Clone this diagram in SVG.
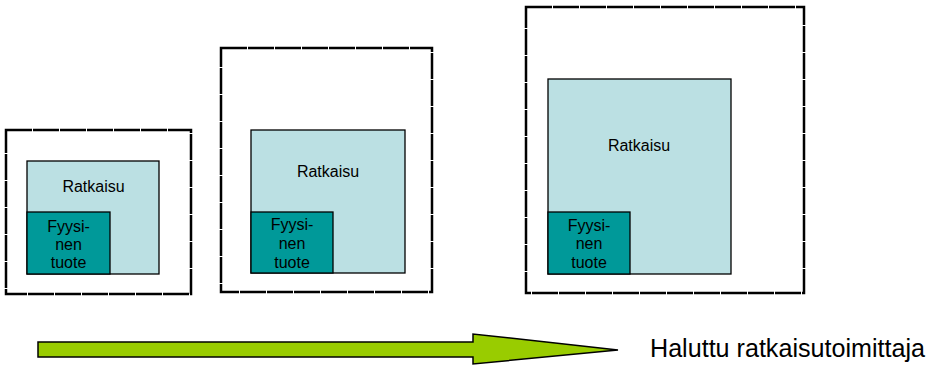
<svg xmlns="http://www.w3.org/2000/svg" width="931" height="365" viewBox="0 0 931 365">
  <style>
    .frame { fill: none; stroke: #000; stroke-width: 2.5; stroke-dasharray: 26 1; }
    .sol { fill: #BBE0E3; stroke: #000; stroke-width: 1.3; }
    .prod { fill: #009999; stroke: #000; stroke-width: 1.3; }
    text { font-family: "Liberation Sans", Arial, sans-serif; fill: #000; text-anchor: middle; }
    .lbl { font-size: 16px; }
    .cap { font-size: 25px; text-anchor: start; }
    .arrow { fill: #99CC00; stroke: #000; stroke-width: 1.5; stroke-linejoin: miter; }
  </style>

  <!-- stage 1 -->
  <g id="stage1">
    <rect class="frame" x="6" y="130" width="185" height="164"/>
    <rect class="sol" x="27" y="161" width="132" height="113"/>
    <text class="lbl" x="93.5" y="192">Ratkaisu</text>
    <g id="product1">
      <rect class="prod" x="27" y="212" width="83" height="62"/>
      <text class="lbl" x="68.5" y="232">Fyysi-</text>
      <text class="lbl" x="68.5" y="250">nen</text>
      <text class="lbl" x="68.5" y="268">tuote</text>
    </g>
  </g>

  <!-- stage 2 -->
  <g id="stage2">
    <rect class="frame" x="221" y="48" width="211" height="244"/>
    <rect class="sol" x="251" y="130" width="154" height="143"/>
    <text class="lbl" x="328" y="177">Ratkaisu</text>
    <g id="product2">
      <rect class="prod" x="251" y="212" width="82" height="61"/>
      <text class="lbl" x="292" y="230">Fyysi-</text>
      <text class="lbl" x="292" y="249">nen</text>
      <text class="lbl" x="292" y="268">tuote</text>
    </g>
  </g>

  <!-- stage 3 -->
  <g id="stage3">
    <rect class="frame" x="526" y="7" width="278" height="286"/>
    <rect class="sol" x="548" y="79" width="183" height="195"/>
    <text class="lbl" x="639" y="151">Ratkaisu</text>
    <g id="product3">
      <rect class="prod" x="548" y="212" width="82" height="62"/>
      <text class="lbl" x="589" y="231">Fyysi-</text>
      <text class="lbl" x="589" y="249">nen</text>
      <text class="lbl" x="589" y="268">tuote</text>
    </g>
  </g>

  <!-- progression arrow -->
  <g id="connectors">
    <polygon class="arrow" points="38,342 473,342 473,334 618,350 473,364 473,357 38,357"/>
  </g>
  <g id="caption">
    <text class="cap" x="650" y="357" textLength="275" lengthAdjust="spacingAndGlyphs">Haluttu ratkaisutoimittaja</text>
  </g>
</svg>
